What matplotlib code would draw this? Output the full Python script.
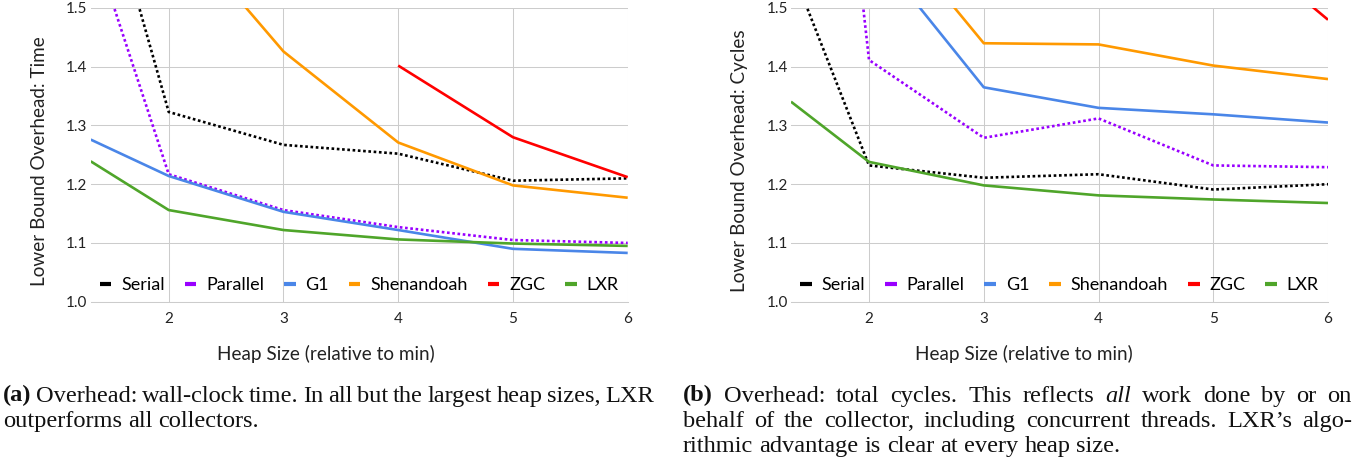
import numpy as np
import matplotlib
matplotlib.use("Agg")
import matplotlib.pyplot as plt
from matplotlib.lines import Line2D

nan = np.nan
heap = [1.32, 2, 3, 4, 5, 6]
xticks = [2, 3, 4, 5, 6]
yticks = [1.0, 1.1, 1.2, 1.3, 1.4, 1.5]
series = ["Serial", "Parallel", "G1", "Shenandoah", "ZGC", "LXR"]

serial_t = [1.792, 1.323, 1.267, 1.252, 1.206, 1.210]
parallel_t = [1.622, 1.217, 1.156, 1.127, 1.105, 1.100]
g1_t = [1.276, 1.214, 1.153, 1.122, 1.090, 1.083]
shen_t = [1.95, 1.654, 1.426, 1.271, 1.198, 1.177]
zgc_t = [nan, nan, nan, 1.402, 1.280, 1.212]
lxr_t = [1.239, 1.156, 1.122, 1.106, 1.099, 1.095]

serial_c = [1.57, 1.232, 1.211, 1.217, 1.191, 1.200]
parallel_c = [2.61, 1.4115, 1.279, 1.312, 1.232, 1.229]
g1_c = [1.9, 1.608, 1.365, 1.330, 1.319, 1.305]
shen_c = [2.0, 1.677, 1.440, 1.438, 1.402, 1.379]
zgc_c = [nan, nan, nan, 1.85, 1.643, 1.480]
lxr_c = [1.3405, 1.238, 1.198, 1.181, 1.174, 1.168]

colors = ["#000000", "#9900ff", "#4a86e8", "#ff9900", "#ff0000", "#4fa52a"]
styles = [(0, (1, 1)), (0, (1, 1)), "-", "-", "-", "-"]

W, H = 1364, 465
fig = plt.figure(figsize=(W / 100, H / 100), dpi=100)
SANS = ["Lato", "DejaVu Sans"]
SERIF = ["Liberation Serif", "DejaVu Serif"]

def px_to_fig(x, y):
    return x / W, 1 - y / H

def make_axes(x0, data, ylabel, ylab_x, xlab_cx):
    ax = fig.add_axes([x0 / W, 1 - 301.7 / H, 537 / W, 293.7 / H])
    for vals, c, ls in zip(data, colors, styles):
        ax.plot(heap, vals, color=c, linestyle=ls, linewidth=1.9,
                dash_capstyle="butt", solid_capstyle="butt")
    ax.set_xlim(1.32, 6)
    ax.set_ylim(1.0, 1.5)
    ax.set_xticks(xticks)
    ax.set_xticklabels([str(t) for t in xticks], family=SANS, fontsize=11, color="#222222")
    ax.set_yticks(yticks)
    ax.set_yticklabels([f"{t:.1f}" for t in yticks], family=SANS, fontsize=11, color="#222222")
    ax.tick_params(axis="both", length=0)
    ax.tick_params(axis="y", pad=2.4)
    ax.tick_params(axis="x", pad=7.5)
    ax.grid(True, color="#cccccc", linewidth=0.75)
    ax.set_axisbelow(True)
    for s in ["top", "right", "left"]:
        ax.spines[s].set_visible(False)
    ax.spines["bottom"].set_color("#cccccc")
    ax.spines["bottom"].set_linewidth(0.75)
    handles = [Line2D([0], [0], color=c, linewidth=3, solid_capstyle="butt") for c in colors]
    ax.legend(handles, series, loc="center", bbox_to_anchor=(0.5, 0.057), ncol=6,
              frameon=False, prop={"family": SANS, "size": 13},
              handlelength=0.64, handletextpad=0.55, columnspacing=1.1,
              borderpad=0, borderaxespad=0)
    fx, fy = px_to_fig(ylab_x, 161)
    fig.text(fx, fy, ylabel, rotation=90, rotation_mode="anchor", ha="center", va="baseline",
             family=SANS, fontsize=13.6, color="#222222")
    fx, fy = px_to_fig(xlab_cx, 360)
    fig.text(fx, fy, "Heap Size (relative to min)", ha="center", va="baseline",
             family=SANS, fontsize=13.6, color="#222222")
    return ax

make_axes(90.7, [serial_t, parallel_t, g1_t, shen_t, zgc_t, lxr_t],
          "Lower Bound Overhead: Time", 45, 326)
make_axes(791, [serial_c, parallel_c, g1_c, shen_c, zgc_c, lxr_c],
          "Lower Bound Overhead: Cycles", 745, 1024)

# captions with justified lines
renderer = fig.canvas.get_renderer()
CAP = 17.6

def tok_width(word, weight, style):
    t = fig.text(0, 0, word, family=SERIF, fontsize=CAP, weight=weight, style=style)
    w = t.get_window_extent(renderer).width
    t.remove()
    return w

space_w = tok_width("a a", "normal", "normal") - tok_width("aa", "normal", "normal")

def draw_line(tokens, x0, x1, baseline, justify):
    widths = [tok_width(w, wt, st) for w, wt, st in tokens]
    if justify and len(tokens) > 1:
        gap = (x1 - x0 - sum(widths)) / (len(tokens) - 1)
        gap = max(gap, 0.6 * space_w)
    else:
        gap = space_w
    x = x0
    for (w, wt, st), tw in zip(tokens, widths):
        fx, fy = px_to_fig(x, baseline)
        fig.text(fx, fy, w, family=SERIF, fontsize=CAP, weight=wt, style=st,
                 ha="left", va="baseline", color="#111111")
        x += tw + gap

def toks(s, bold_first=False, italic=()):
    out = []
    for i, w in enumerate(s.split()):
        wt = "bold" if (bold_first and i == 0) else "normal"
        st = "italic" if w in italic else "normal"
        out.append((w, wt, st))
    return out

cap_a = [
    toks("(a) Overhead: wall-clock time. In all but the largest heap sizes, LXR", bold_first=True),
    toks("outperforms all collectors."),
]
cap_b = [
    toks("(b) Overhead: total cycles. This reflects all work done by or on", bold_first=True, italic=("all",)),
    toks("behalf of the collector, including concurrent threads. LXR\u2019s algo-"),
    toks("rithmic advantage is clear at every heap size."),
]

for i, line in enumerate(cap_a):
    draw_line(line, 2.7, 654, 401.5 + 25 * i, justify=(i < len(cap_a) - 1))
for i, line in enumerate(cap_b):
    draw_line(line, 682.7, 1352, 401.5 + 25 * i, justify=(i < len(cap_b) - 1))

fig.savefig("out.png", dpi=100)
